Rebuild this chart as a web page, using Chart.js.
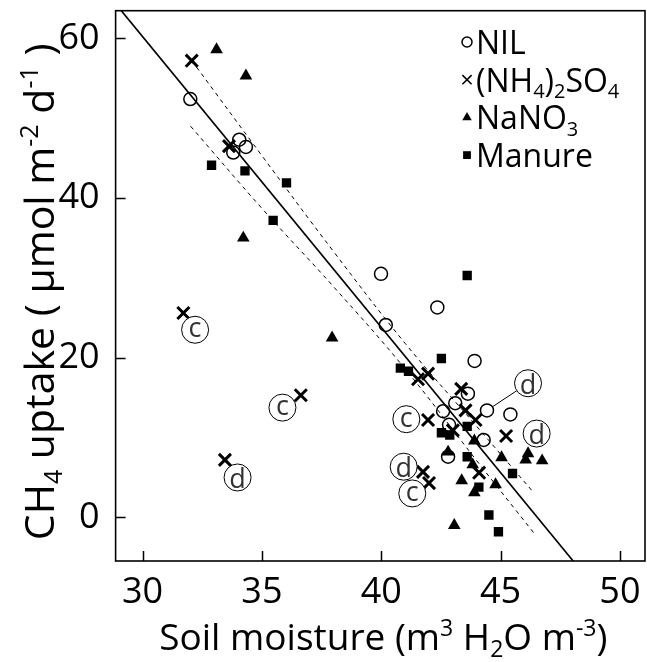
<!DOCTYPE html>
<html>
<head>
<meta charset="utf-8">
<script src="https://cdn.jsdelivr.net/npm/chart.js@4.4.1/dist/chart.umd.min.js"></script>
<style>
  html, body { margin: 0; padding: 0; background: #fff; }
  #wrap { width: 647px; height: 662px; }
</style>
</head>
<body>
<div id="wrap"><canvas id="myChart" width="647" height="662"></canvas></div>
<script>
const xTicks = [30, 35, 40, 45, 50];
const yTicks = [0, 20, 40, 60];

// NIL
const nilMoisture = [32.0, 34.05, 33.8, 34.33, 39.99, 42.35, 40.19, 43.91, 43.63, 43.1, 42.59, 44.43, 45.41, 42.84, 44.29, 42.8];
const nilUptake = [52.4, 47.3, 45.7, 46.4, 30.5, 26.3, 24.1, 19.6, 15.5, 14.3, 13.3, 13.4, 12.9, 11.6, 9.7, 7.6];

// (NH4)2SO4
const amsMoisture = [32.06, 33.62, 31.71, 36.63, 33.45, 41.54, 41.96, 43.35, 43.53, 43.95, 41.96, 43.0, 45.23, 41.75, 42.0, 44.1];
const amsUptake = [57.2, 46.5, 25.6, 15.3, 7.2, 17.3, 18.0, 16.1, 13.4, 12.2, 12.2, 10.9, 10.2, 5.7, 4.3, 5.6];

// NaNO3
const nitrateMoisture = [33.1, 34.33, 34.22, 37.94, 42.8, 43.9, 45.04, 46.15, 46.05, 46.74, 43.83, 43.37, 44.79, 43.9, 43.06];
const nitrateUptake = [58.6, 55.3, 35.0, 22.5, 8.2, 9.6, 7.5, 8.0, 7.2, 7.1, 6.6, 4.6, 4.1, 3.1, -1.0];

// Manure
const manureMoisture = [32.89, 34.29, 36.03, 35.47, 43.6, 42.52, 40.8, 41.14, 42.52, 42.87, 43.6, 43.6, 45.5, 44.09, 44.51, 44.91];
const manureUptake = [44.1, 43.4, 41.9, 37.2, 30.3, 19.9, 18.7, 18.3, 10.6, 10.3, 11.4, 7.6, 5.5, 3.8, 0.3, -1.8];

// regression line and its confidence band
const fitMoisture = [29.1, 48.05];
const fitUptake = [63.5, -5.5];
const upperMoisture = [32.26, 35, 38, 41, 44, 46.33];
const upperUptake = [56.4, 45.3, 33.3, 21.8, 11.4, 3.3];
const lowerMoisture = [32.01, 35, 38, 41, 44, 46.38];
const lowerUptake = [49.0, 38.7, 28.9, 18.6, 7.1, -1.9];

// circled letters
const labelMoisture = [32.2, 35.86, 33.98, 41.05, 46.15, 46.51, 40.94, 41.3];
const labelUptake = [23.5, 13.75, 5.0, 12.3, 16.8, 10.5, 6.35, 3.0];
const labelText = ['c', 'c', 'd', 'c', 'd', 'd', 'd', 'c'];
const linkFrom = [4];
const linkTo = [[44.43, 13.4]];

const legendLabels = [
  [['NIL', '']],
  [['(NH', ''], ['4', 'sub'], [')', ''], ['2', 'sub'], ['SO', ''], ['4', 'sub']],
  [['NaNO', ''], ['3', 'sub']],
  [['Manure', '']]
];
const xTitle = [['Soil moisture (m', ''], ['3', 'sup'], [' H', ''], ['2', 'sub'], ['O m', ''], ['-3', 'sup'], [')', '']];
const yTitle = [['CH', ''], ['4', 'sub'], [' uptake ( \u03bcmol m', ''], ['-2', 'sup'], [' d', ''], ['-1', 'sup'], [' )', '']];

const FONT = '"Open Sans", "DejaVu Sans", sans-serif';
const toPts = (xs, ys) => xs.map((x, i) => ({ x: x, y: ys[i] }));

const fontFor = (kind, size) => (kind ? Math.round(size * 0.62) : size) + 'px ' + FONT;

function richWidth(ctx, parts, size) {
  return parts.reduce((w, p) => {
    ctx.font = fontFor(p[1], size);
    return w + ctx.measureText(p[0]).width;
  }, 0);
}

function drawRich(ctx, parts, x, y, size, align) {
  let cx = align === 'center' ? x - richWidth(ctx, parts, size) / 2 : x;
  ctx.textAlign = 'left';
  ctx.textBaseline = 'alphabetic';
  parts.forEach(p => {
    ctx.font = fontFor(p[1], size);
    const dy = p[1] === 'sub' ? size * 0.2 : p[1] === 'sup' ? -size * 0.38 : 0;
    ctx.fillText(p[0], cx, y + dy);
    cx += ctx.measureText(p[0]).width;
  });
}

const legendStyles = [
  { pointStyle: 'circle', radius: 5, borderWidth: 1.3, fill: 'rgba(0,0,0,0)' },
  { pointStyle: 'crossRot', radius: 6.5, borderWidth: 2.5, fill: '#000' },
  { pointStyle: 'triangle', radius: 5.5, borderWidth: 0, fill: '#000' },
  { pointStyle: 'rect', radius: 5.5, borderWidth: 0, fill: '#000' }
];

const decorations = {
  id: 'decorations',
  afterDatasetsDraw(chart) {
    const ctx = chart.ctx;
    const xs = chart.scales.x, ys = chart.scales.y;
    ctx.save();
    // connector lines from the circled letters
    linkFrom.forEach((li, k) => {
      const cx = xs.getPixelForValue(labelMoisture[li]), cy = ys.getPixelForValue(labelUptake[li]);
      const tx = xs.getPixelForValue(linkTo[k][0]), ty = ys.getPixelForValue(linkTo[k][1]);
      const d = Math.hypot(tx - cx, ty - cy);
      const ux = (tx - cx) / d, uy = (ty - cy) / d;
      ctx.beginPath();
      ctx.moveTo(cx + ux * 13.5, cy + uy * 13.5);
      ctx.lineTo(tx - ux * 6.5, ty - uy * 6.5);
      ctx.strokeStyle = '#000';
      ctx.lineWidth = 1;
      ctx.stroke();
    });
    labelText.forEach((t, i) => {
      const cx = xs.getPixelForValue(labelMoisture[i]), cy = ys.getPixelForValue(labelUptake[i]);
      ctx.beginPath();
      ctx.arc(cx, cy, 13.5, 0, Math.PI * 2);
      ctx.fillStyle = '#fff';
      ctx.fill();
      ctx.strokeStyle = '#000';
      ctx.lineWidth = 1;
      ctx.stroke();
      ctx.font = '27px ' + FONT;
      ctx.fillStyle = '#333';
      ctx.textAlign = 'center';
      ctx.textBaseline = 'alphabetic';
      const m = ctx.measureText(t);
      const h = m.actualBoundingBoxAscent - m.actualBoundingBoxDescent;
      ctx.fillText(t, cx, cy + h / 2);
    });
    ctx.restore();
  },
  afterDraw(chart) {
    const ctx = chart.ctx;
    const a = chart.chartArea;
    const xs = chart.scales.x, ys = chart.scales.y;
    ctx.save();
    ctx.strokeStyle = '#000';
    ctx.lineWidth = 1.6;
    ctx.strokeRect(a.left, a.top, a.right - a.left, a.bottom - a.top);
    ctx.lineWidth = 1.5;
    ctx.beginPath();
    xs.ticks.forEach(t => {
      const px = Math.round(xs.getPixelForValue(t.value)) + 0.5;
      ctx.moveTo(px, a.bottom);
      ctx.lineTo(px, a.bottom - 10);
    });
    ys.ticks.forEach(t => {
      const py = Math.round(ys.getPixelForValue(t.value)) + 0.5;
      ctx.moveTo(a.left, py);
      ctx.lineTo(a.left + 10, py);
    });
    ctx.stroke();

    ctx.fillStyle = '#000';
    drawRich(ctx, xTitle, (a.left + a.right) / 2 + 3, 650, 37, 'center');
    ctx.save();
    ctx.translate(54, (a.top + a.bottom) / 2 + 6);
    ctx.rotate(-Math.PI / 2);
    drawRich(ctx, yTitle, 0, 0, 41, 'center');
    ctx.restore();

    // legend
    legendLabels.forEach((parts, i) => {
      const y = 42 + i * 37.7;
      const st = legendStyles[i];
      ctx.fillStyle = st.fill;
      ctx.strokeStyle = '#000';
      Chart.helpers.drawPoint(ctx, st, 467, y);
      ctx.fillStyle = '#000';
      drawRich(ctx, parts, 476, y + 12, 32, 'left');
    });
    ctx.restore();
  }
};

const ctx = document.getElementById('myChart').getContext('2d');
const myChart = new Chart(ctx, {
  type: 'scatter',
  data: {
    datasets: [
      {
        label: 'fit', data: toPts(fitMoisture, fitUptake), showLine: true,
        borderColor: '#000', borderWidth: 1.6, pointRadius: 0, order: 0
      },
      {
        label: 'upper', data: toPts(upperMoisture, upperUptake), showLine: true, tension: 0.4,
        borderColor: '#000', borderWidth: 1, borderDash: [4, 4], pointRadius: 0, order: 0
      },
      {
        label: 'lower', data: toPts(lowerMoisture, lowerUptake), showLine: true, tension: 0.4,
        borderColor: '#000', borderWidth: 1, borderDash: [4, 4], pointRadius: 0, order: 0
      },
      {
        label: '(NH4)2SO4', data: toPts(amsMoisture, amsUptake), pointStyle: 'crossRot',
        pointRadius: 8.5, pointBorderWidth: 3, borderColor: '#000', backgroundColor: '#000', order: 1
      },
      {
        label: 'NIL', data: toPts(nilMoisture, nilUptake), pointStyle: 'circle',
        pointRadius: 6.5, pointBorderWidth: 1.5, borderColor: '#000', backgroundColor: 'rgba(0,0,0,0)', order: 2
      },
      {
        label: 'NaNO3', data: toPts(nitrateMoisture, nitrateUptake), pointStyle: 'triangle',
        pointRadius: 7.3, pointBorderWidth: 0, borderColor: '#000', backgroundColor: '#000', order: 3
      },
      {
        label: 'Manure', data: toPts(manureMoisture, manureUptake), pointStyle: 'rect',
        pointRadius: 6.6, pointBorderWidth: 0, borderColor: '#000', backgroundColor: '#000', order: 4
      }
    ]
  },
  options: {
    responsive: false,
    animation: false,
    devicePixelRatio: 1,
    layout: { autoPadding: false, padding: { top: 10.7, right: 2, left: 0, bottom: 0 } },
    scales: {
      x: {
        type: 'linear',
        min: 28.87,
        max: 51.05,
        afterBuildTicks: scale => { scale.ticks = xTicks.map(v => ({ value: v })); },
        afterFit: scale => {
          scale.height = 101;
          scale.paddingLeft = 0;
          scale.paddingRight = 0;
        },
        grid: { display: false },
        border: { display: false },
        ticks: { color: '#000', font: { family: FONT, size: 36 }, padding: 2, maxRotation: 0 }
      },
      y: {
        type: 'linear',
        min: -5.46,
        max: 63.46,
        afterBuildTicks: scale => { scale.ticks = yTicks.map(v => ({ value: v })); },
        afterFit: scale => {
          scale.width = 115.6;
          scale.paddingTop = 0;
          scale.paddingBottom = 0;
        },
        grid: { display: false },
        border: { display: false },
        ticks: { color: '#000', font: { family: FONT, size: 36 }, padding: 8 }
      }
    },
    plugins: {
      legend: { display: false },
      tooltip: { enabled: false }
    }
  },
  plugins: [decorations]
});
</script>
</body>
</html>
